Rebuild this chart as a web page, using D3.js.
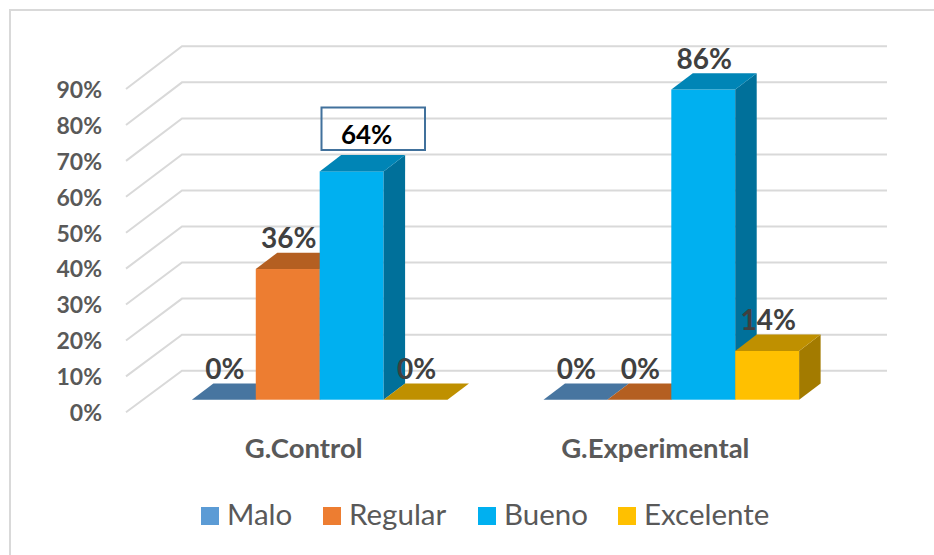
<!DOCTYPE html>
<html>
<head>
<meta charset="utf-8">
<script src="https://cdn.jsdelivr.net/npm/d3@7"></script>
<style>
  html, body { margin: 0; padding: 0; background: #fff; }
  svg { display: block; }
  text { font-family: Lato, "Open Sans", sans-serif; }
</style>
</head>
<body>
<script>
// chart values, bar heights sit a bit off the rounded labels
var categories = ["G.Control", "G.Experimental"];
var seriesNames = ["Malo", "Regular", "Bueno", "Excelente"];
var control = [0, 36.4, 63.6, 0];
var experimental = [0, 0, 86.4, 13.6];
var tickValues = [0, 10, 20, 30, 40, 50, 60, 70, 80, 90];

var frontColors = ["#5B9BD5", "#ED7D31", "#00B0F0", "#FFC000"];
var topColors = ["#4775A0", "#B45F21", "#0085B6", "#BF9000"];
var sideColors = ["#3A6186", "#99501C", "#00709A", "#A37B00"];
var legendX = [201, 323, 478, 618];

var width = 934,
    height = 555;

var svg = d3.select("body").append("svg")
    .attr("width", width)
    .attr("height", height);

// frame, only top and left show up in the picture
svg.append("path")
    .attr("d", "M10,555V10H934")
    .attr("fill", "none")
    .attr("stroke", "#D9D9D9")
    .attr("stroke-width", 2);

// the three planes of the fake 3d box
var yFront = d3.scaleLinear().domain([0, 90]).range([412.3, 89]);
var yBack = d3.scaleLinear().domain([0, 90]).range([370.7, 46.3]);
var yBar = d3.scaleLinear().domain([0, 90]).range([399.7, 76.6]);

var x0 = d3.scaleBand().domain(categories).range([143, 848])
    .paddingInner(0.273).paddingOuter(0.139);
var x1 = d3.scaleBand().domain(seriesNames).range([0, x0.bandwidth()]);

var depthX = 21.5,
    depthY = 16.3;

// gridlines
var grid = svg.append("g")
    .attr("fill", "none")
    .attr("stroke", "#D9D9D9")
    .attr("stroke-width", 2);
grid.selectAll("path")
    .data(tickValues)
    .enter().append("path")
    .attr("d", function(d) {
        return "M126," + yFront(d) + "L182," + yBack(d) + "H887";
    });

// y axis labels
var yAxis = d3.axisLeft(yFront)
    .tickValues(tickValues)
    .tickFormat(function(d) { return d + "%"; })
    .tickSize(0)
    .tickPadding(24);
var yAxisG = svg.append("g")
    .attr("transform", "translate(126,1)")
    .call(yAxis);
yAxisG.select(".domain").remove();
yAxisG.selectAll("text")
    .attr("fill", "#595959")
    .style("font-family", "Lato, sans-serif")
    .style("font-size", "23px")
    .style("font-weight", "bold");

// bars, left to right so the later ones sit over earlier side faces
var values = [control, experimental];
categories.forEach(function(cat, c) {
    var g = svg.append("g");
    seriesNames.forEach(function(name, s) {
        var v = values[c][s];
        var left = x0(cat) + x1(name),
            right = left + x1.bandwidth(),
            top = yBar(v),
            base = yBar(0);
        if (v > 0) {
            g.append("rect")
                .attr("x", left).attr("y", top)
                .attr("width", right - left).attr("height", base - top)
                .attr("fill", frontColors[s]);
            g.append("path")
                .attr("d", "M" + right + "," + top + "l" + depthX + "," + (-depthY) +
                    "V" + (base - depthY) + "L" + right + "," + base + "Z")
                .attr("fill", sideColors[s]);
        }
        g.append("path")
            .attr("d", "M" + left + "," + top + "l" + depthX + "," + (-depthY) +
                "H" + (right + depthX) + "L" + right + "," + top + "Z")
            .attr("fill", topColors[s]);
    });
});

// data labels
categories.forEach(function(cat, c) {
    seriesNames.forEach(function(name, s) {
        var v = values[c][s];
        var moved = c === 0 && s === 2; // this one was dragged by hand in the original
        svg.append("text")
            .attr("x", x0(cat) + x1(name) + x1.bandwidth() / 2 + (moved ? 15 : 1))
            .attr("y", yBar(v) - (moved ? 27 : 21))
            .attr("text-anchor", "middle")
            .attr("fill", moved ? "#000" : "#404040")
            .style("font-size", moved ? "26px" : "28px")
            .style("font-weight", "bold")
            .text(Math.round(v) + "%");
    });
});

// box drawn around the 64% label
svg.append("rect")
    .attr("x", 321.5).attr("y", 107.5)
    .attr("width", 103.5).attr("height", 42.5)
    .attr("fill", "none")
    .attr("stroke", "#41719C")
    .attr("stroke-width", 2);

// category labels
svg.selectAll(".cat")
    .data(categories)
    .enter().append("text")
    .attr("class", "cat")
    .attr("x", function(d) { return x0(d) + x0.bandwidth() / 2 - 16; })
    .attr("y", 457.7)
    .attr("text-anchor", "middle")
    .attr("fill", "#595959")
    .style("font-size", "27.5px")
    .style("font-weight", "bold")
    .text(function(d) { return d; });

// legend
var legend = svg.selectAll(".legend")
    .data(seriesNames)
    .enter().append("g")
    .attr("class", "legend")
    .attr("transform", function(d, i) { return "translate(" + legendX[i] + ",507)"; });
legend.append("rect")
    .attr("width", 18)
    .attr("height", 18)
    .attr("fill", function(d, i) { return frontColors[i]; });
legend.append("text")
    .attr("x", 26)
    .attr("y", 18)
    .attr("fill", "#595959")
    .style("font-size", "29.5px")
    .text(function(d) { return d; });
</script>
</body>
</html>
